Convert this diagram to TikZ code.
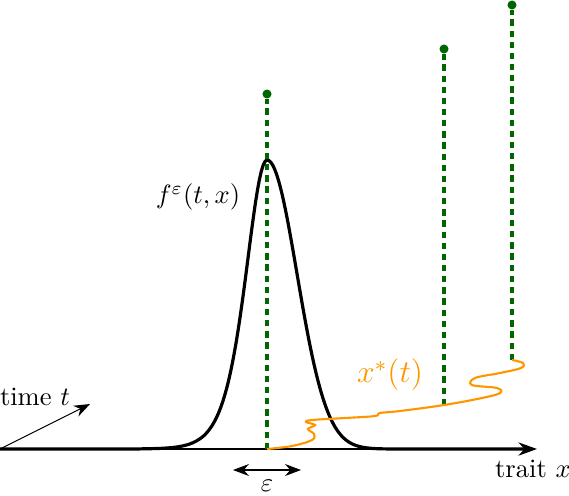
\documentclass[tikz,border=0pt]{standalone}
\usepackage{amsmath,amssymb}
\usepackage{xcolor}
\usetikzlibrary{arrows.meta}

\definecolor{traitorange}{RGB}{255,150,0}
\definecolor{darkgreen}{RGB}{0,102,0}

\begin{document}
\begin{tikzpicture}[x=0.377pt, y=-0.377pt,
    axis/.style={thick, -{Stealth[length=7pt, width=5pt]}},
    timeaxis/.style={-{Stealth[length=6pt, width=4.5pt]}},
    density/.style={very thick, black, line join=round},
    branch/.style={very thick, darkgreen, dash pattern=on 2.4pt off 1.8pt},
    tip/.style={circle, fill=darkgreen, inner sep=0pt, minimum size=3.4pt},
    traitpath/.style={thick, traitorange},
    lbl/.style={inner sep=1pt}]
    \useasboundingbox (0,0) rectangle (569,495);

    % Axes
    \coordinate (O) at (0,449);
    \coordinate (xend) at (537,449);
    \coordinate (tend) at (90,404);
    \draw[axis] (O) -- (xend);
    \draw[timeaxis] (O) -- (tend);
    \node[lbl] (tlabel) at (35,397) {time $t$};
    \node[lbl] (xlabel) at (533,469) {trait $x$};

    % Density (skewed profile)
    \draw[density] plot[domain=0:267, samples=140]
        (\x, {449-1156*exp(-2*(267-\x)/28.5)/(1+exp(-2*(267-\x)/28.5))^2})
        -- plot[domain=267:530, samples=140]
        (\x, {449-289*exp(-((\x-267)/30)^2/2)});
    \node[lbl] (flabel) at (198,197) {$f^{\varepsilon}(t,x)$};

    % Branches
    \coordinate (b1) at (267,449);
    \coordinate (b2) at (444,405);
    \coordinate (b3) at (512,360);
    \node[tip] (t1) at (267,94) {};
    \node[tip] (t2) at (444,49) {};
    \node[tip] (t3) at (512,5) {};
    \draw[branch] (b1) -- (t1);
    \draw[branch] (b2) -- (t2);
    \draw[branch] (b3) -- (t3);

    % Trajectory
    \draw[traitpath] plot[smooth, tension=0.6] coordinates {
        (b1) (292,446) (312,440) (314,434) (308,429) (315,425) (306,422)
        (312,420) (345,418) (375,416) (380,413) (400,411) (b2) (482,398)
        (500,393) (497,388) (472,385) (475,378) (500,373) (521,368)
        (523,363) (b3)};
    \node[lbl, text=traitorange, font=\large] (xstar) at (390,375) {$x^*(t)$};

    % Width
    \coordinate (epsL) at (233,470);
    \coordinate (epsR) at (301,470);
    \draw[{Stealth[length=6pt, width=4.5pt]}-{Stealth[length=6pt, width=4.5pt]}] (epsL) -- (epsR);
    \node[lbl] (elabel) at (267,486) {$\varepsilon$};
\end{tikzpicture}
\end{document}
